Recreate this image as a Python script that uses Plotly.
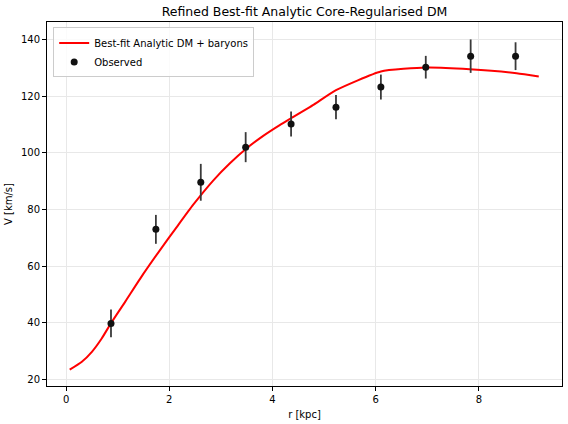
import plotly.graph_objs as go

# observed rotation curve
r_obs = [0.87, 1.74, 2.61, 3.48, 4.36, 5.23, 6.10, 6.97, 7.84, 8.71]
v_obs = [39.8, 73.0, 89.6, 102.0, 110.2, 116.1, 123.2, 130.2, 134.1, 134.1]
v_err = [4.9, 5.1, 6.5, 5.3, 4.4, 4.3, 4.4, 4.0, 5.9, 4.9]

# best-fit model curve
r_fit = [0.07, 0.30, 0.50, 0.69, 0.87, 1.15, 1.49, 1.82, 2.14, 2.46, 2.85, 3.17,
         3.50, 3.82, 4.14, 4.36, 4.80, 5.23, 6.10, 6.98, 7.82, 8.73, 9.16]
v_fit = [23.5, 26.2, 29.8, 34.5, 39.9, 47.6, 57.1, 65.7, 73.7, 81.6, 90.2, 96.2,
         101.6, 106.0, 109.8, 112.2, 117.0, 122.1, 128.7, 130.1, 129.5, 128.1, 126.9]

x_ticks = [0, 2, 4, 6, 8]
y_ticks = [20, 40, 60, 80, 100, 120, 140]

fig = go.Figure()

# model line
fig.add_trace(go.Scatter(x=r_fit, y=v_fit, mode='lines',
                         line=dict(color='red', width=2, shape='spline', smoothing=0.5),
                         name='Best-fit Analytic DM + baryons'))

# data with errorbars
fig.add_trace(go.Scatter(x=r_obs, y=v_obs, mode='markers',
                         marker=dict(color='#111111', size=7),
                         error_y=dict(type='data', array=v_err, visible=True,
                                      color='#3a3a3a', thickness=1.8, width=0),
                         name='Observed'))

axis_style = dict(showline=True, linecolor='black', linewidth=1, mirror=True,
                  ticks='outside', ticklen=4, tickcolor='black',
                  showgrid=True, gridcolor='#e8e8e8', gridwidth=1,
                  zeroline=False, automargin=False,
                  tickfont=dict(size=10, color='black'))

fig.update_xaxes(range=[-0.37, 9.61], tickvals=x_ticks,
                 title=dict(text='r [kpc]', font=dict(size=10, color='black'), standoff=6),
                 **axis_style)
fig.update_yaxes(range=[17.74, 146.15], tickvals=y_ticks,
                 title=dict(text='V [km/s]', font=dict(size=10, color='black'), standoff=6),
                 **axis_style)

fig.update_layout(
    width=568, height=424,
    margin=dict(l=47, r=6, t=22, b=38),
    paper_bgcolor='white', plot_bgcolor='white',
    font=dict(family='DejaVu Sans', size=10, color='black'),
    title=dict(text='Refined Best-fit Analytic Core-Regularised DM',
               x=0.5, xref='paper', xanchor='center', y=0.972, yref='container',
               yanchor='middle', font=dict(size=12.5, color='black')),
    legend=dict(x=0.012, y=0.985, xanchor='left', yanchor='top',
                bordercolor='#cccccc', borderwidth=1, bgcolor='rgba(255,255,255,0.8)',
                font=dict(size=10), itemwidth=30),
    showlegend=True,
)

# drop the default body margin so the figure sits at the page corner
fig.write_html("out.html", config={'displayModeBar': False},
               post_script="document.body.style.margin='0';")
